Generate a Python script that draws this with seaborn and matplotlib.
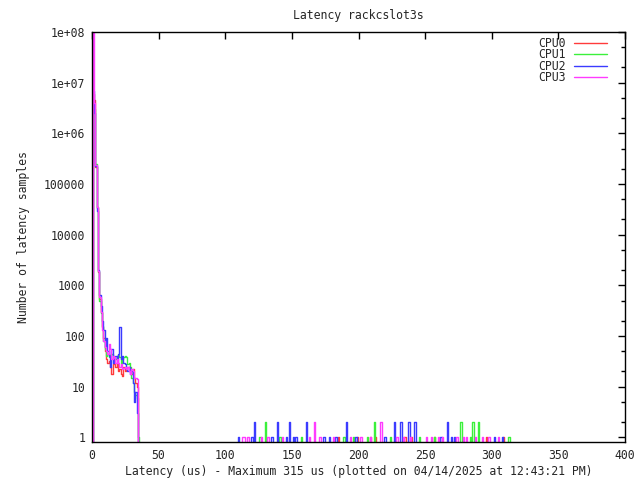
import numpy as np
import pandas as pd
import matplotlib
matplotlib.use("Agg")
import matplotlib.pyplot as plt
import seaborn as sns
from matplotlib.lines import Line2D
from matplotlib.ticker import FixedLocator, FixedFormatter, NullFormatter

# ---------------- data ----------------
title = "Latency rackcslot3s"
xlabel = "Latency (us) - Maximum 315 us (plotted on 04/14/2025 at 12:43:21 PM)"
ylabel = "Number of latency samples"
cpus = ["CPU0", "CPU1", "CPU2", "CPU3"]
colors = ["#ff3b3b", "#3bf03b", "#3b3bff", "#ff3bff"]

# bins 0..35 us
cpu0_main = [0, 6.0e6, 4.5e6, 2.2e5, 3.3e4, 1800, 550, 300, 150, 90, 50, 35, 30, 32, 25, 18,
             28, 30, 25, 30, 20, 22, 18, 16, 25, 20, 22, 25, 24, 20, 18, 22, 15, 12, 10, 0]
cpu1_main = [0, 4.0e6, 3.0e6, 2.5e5, 3.5e4, 1900, 500, 280, 160, 80, 55, 40, 45, 38, 42, 45,
             40, 38, 35, 40, 42, 38, 30, 35, 38, 40, 38, 28, 30, 25, 15, 12, 8, 7, 6, 1]
cpu2_main = [0, 7.0e6, 2.5e6, 2.3e5, 3.0e4, 2000, 650, 400, 200, 130, 60, 90, 50, 40, 25, 55,
             30, 35, 40, 30, 45, 150, 35, 40, 30, 28, 22, 20, 25, 18, 20, 12, 5, 8, 3, 0]
cpu3_main = [0, 9.5e7, 4.0e6, 2.4e5, 3.5e4, 1900, 600, 300, 130, 80, 60, 50, 45, 70, 55, 35,
             40, 38, 30, 35, 30, 25, 28, 22, 23, 25, 22, 24, 20, 18, 22, 20, 15, 15, 14, 0]

# sparse outliers (us positions)
cpu0_ones = [185, 199, 209, 213, 235, 240, 257, 296, 309]
cpu0_twos = []
cpu1_ones = [126, 141, 157, 189, 196, 207, 224, 246, 257, 284, 313]
cpu1_twos = [130, 212, 277, 286, 290]
cpu2_ones = [110, 120, 135, 146, 151, 153, 174, 178, 183, 198, 220, 262, 270, 272, 302, 308]
cpu2_twos = [122, 139, 148, 161, 191, 227, 232, 238, 242, 243, 267]
cpu3_ones = [113, 114, 117, 127, 132, 143, 163, 171, 181, 194, 202, 209, 229, 234, 239,
             251, 255, 260, 263, 274, 279, 281, 288, 293, 298, 305]
cpu3_twos = [167, 217]

xticks = [0, 50, 100, 150, 200, 250, 300, 350, 400]
yticks = [1, 10, 100, 1000, 10000, 100000, 1e6, 1e7, 1e8]
yticklabels = ["1", "10", "100", "1000", "10000", "100000", "1e+06", "1e+07", "1e+08"]

# ---------------- build table ----------------
NBINS = 321
FLOOR = 1e-3
frames = []
for name, main, ones, twos in [
    ("CPU0", cpu0_main, cpu0_ones, cpu0_twos),
    ("CPU1", cpu1_main, cpu1_ones, cpu1_twos),
    ("CPU2", cpu2_main, cpu2_ones, cpu2_twos),
    ("CPU3", cpu3_main, cpu3_ones, cpu3_twos),
]:
    arr = np.zeros(NBINS)
    arr[:len(main)] = main
    for p in ones:
        arr[p] = 1
    for p in twos:
        arr[p] = 2
    arr[arr <= 0] = FLOOR
    frames.append(pd.DataFrame({"x": np.arange(NBINS), "y": arr, "cpu": name}))
df = pd.concat(frames, ignore_index=True)

# ---------------- plot ----------------
sns.set_style("white")
FONT = "DejaVu Sans Mono"
plt.rcParams["font.family"] = [FONT]
plt.rcParams["font.size"] = 8.3

fig = plt.figure(figsize=(6.4, 4.8), dpi=100)
ax = fig.add_axes([92 / 640, 38 / 480, 533 / 640, 410 / 480])

sns.lineplot(data=df, x="x", y="y", hue="cpu", hue_order=cpus,
             palette=dict(zip(cpus, colors)), estimator=None, sort=False,
             drawstyle="steps-mid", linewidth=1.0, ax=ax, legend=False)

ax.set_yscale("log")
ax.set_xlim(0, 400)
ax.set_ylim(0.81, 1e8)

ax.xaxis.set_major_locator(FixedLocator(xticks))
ax.set_xticklabels([str(t) for t in xticks])
ax.yaxis.set_major_locator(FixedLocator(yticks))
ax.yaxis.set_major_formatter(FixedFormatter(yticklabels))
minor = [m * 10.0 ** e for e in range(0, 8) for m in (2, 5)]
ax.yaxis.set_minor_locator(FixedLocator(minor))
ax.yaxis.set_minor_formatter(NullFormatter())

ax.tick_params(which="both", direction="in", top=True, right=True, color="black",
               labelsize=8.3, pad=5)
ax.tick_params(which="major", length=5, width=1)
ax.tick_params(which="minor", length=3, width=1)
for s in ax.spines.values():
    s.set_color("black")
    s.set_linewidth(1.0)

ax.set_xlabel(xlabel, fontsize=8.3, labelpad=2)
ax.set_ylabel(ylabel, fontsize=8.3, labelpad=10)
ax.set_title(title, fontsize=8.3, pad=9)

handles = [Line2D([], [], color=c, lw=1.0) for c in colors]
ax.legend(handles, cpus, loc="upper right", bbox_to_anchor=(0.975, 1.0),
          frameon=False, markerfirst=False, handlelength=2.9, fontsize=8.3,
          labelspacing=-0.12, borderaxespad=0.0, handletextpad=0.7)

fig.savefig("out.png", dpi=100, facecolor="white")
